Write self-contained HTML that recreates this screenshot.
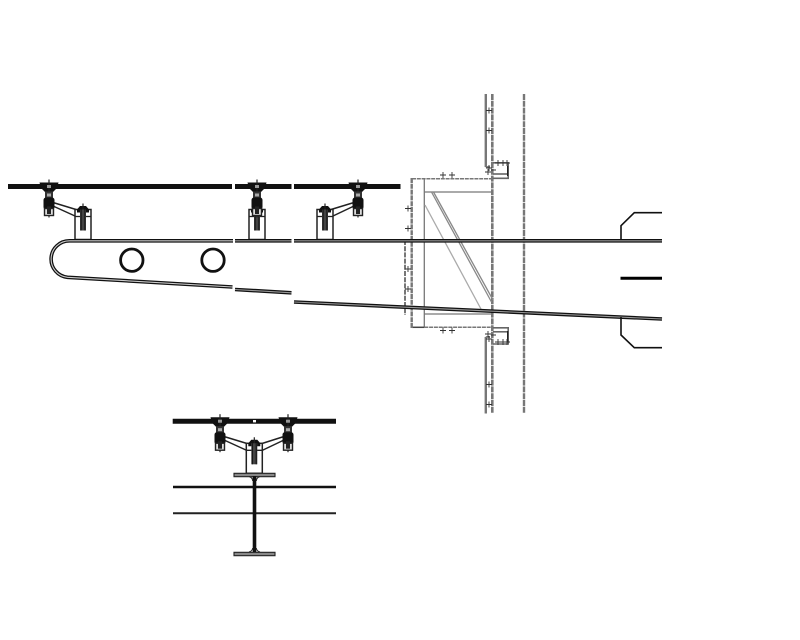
<!DOCTYPE html>
<html><head><meta charset="utf-8"><style>html,body{margin:0;padding:0;background:#fff}svg{display:block}</style></head>
<body>
<svg width="800" height="640" viewBox="0 0 800 640" xmlns="http://www.w3.org/2000/svg" fill="none">
<defs>
<g id="clamp">
  <path d="M-9.5,-4 H9.5 L8,1.5 L3.5,6 H-3.5 L-8,1.5 Z" fill="#111"/>
  <path d="M0,-7 V31" stroke="#222" stroke-width="1.2"/>
  <rect x="-2" y="-1.5" width="4" height="3" fill="#999"/>
  <rect x="-4" y="5" width="8" height="8" fill="#333"/>
  <rect x="-2" y="7" width="4" height="3" fill="#aaa"/>
  <rect x="-5.5" y="11" width="11" height="12" rx="2.5" fill="#111"/>
  <rect x="-4.5" y="22" width="9" height="7" fill="#ddd" stroke="#222" stroke-width="1.4"/>
  <rect x="-2" y="20" width="4" height="7.5" fill="#222"/>
</g>
<g id="post">
  <rect x="-8" y="0" width="16" height="30" fill="#fff" stroke="#222" stroke-width="1.5"/>
  <path d="M-8,7 H8" stroke="#222" stroke-width="1.3"/>
  <path d="M-6,0 L-3,-3.5 H3 L6,0 V3 H-6 Z" fill="#111"/>
  <path d="M0,-6 V3" stroke="#222" stroke-width="1.2"/>
  <rect x="-3" y="0" width="6" height="21" fill="#444"/>
  <rect x="-2.4" y="0" width="1" height="21" fill="#111"/>
  <rect x="1.4" y="0" width="1" height="21" fill="#111"/>
</g>
</defs>

<!-- top rail -->
<g stroke="#111" stroke-width="5">
  <path d="M8,186.5 H232"/><path d="M235,186.5 H291.5"/><path d="M294,186.5 H400.5"/>
</g>

<!-- arms -->
<g stroke="#222" stroke-width="1.5">
  <path d="M53,202.5 L76,209.5"/><path d="M53,206 L75,216"/>
  <path d="M354,202.5 L331,209.5"/><path d="M354,206 L333,216"/>
</g>
<use href="#post" x="83" y="209.5"/>
<use href="#post" x="257" y="209.5"/>
<use href="#post" x="325" y="209.5"/>
<use href="#clamp" x="49" y="186.5"/>
<use href="#clamp" x="257" y="186.5"/>
<use href="#clamp" x="358" y="186.5"/>

<!-- right detail: grey structure -->
<g stroke="#777" stroke-width="1.5">
  <path d="M412,178.7 H492.5" stroke-dasharray="4 0.8"/>
  <path d="M424.3,192 H492.5" stroke-width="1.3"/>
  <path d="M424.3,178.7 V327" stroke-width="1.3"/>
  <path d="M424.3,314 H492.5" stroke-width="1.3"/>
  <path d="M424.3,327.3 H492.5" stroke-dasharray="4 0.8"/>
  <path d="M412,327.3 H424.3" stroke="#444"/>
</g>
<g stroke="#777" stroke-width="2.4">
  <path d="M411.7,178 V328" stroke-dasharray="5 0.8"/>
  <path d="M405,240 V315" stroke-dasharray="5 1.2" stroke-width="2"/>
  <path d="M485.8,94 V167"/><path d="M485.8,337 V413.5"/>
  <path d="M485.8,167 H490" stroke-width="1.8"/>
  <path d="M485.8,337 H490" stroke-width="1.8"/>
  <path d="M492.3,94 V413.5" stroke-dasharray="6 0.8" stroke-width="2.6"/>
  <path d="M524,94 V413.5" stroke-dasharray="6 0.8"/>
</g>
<!-- diagonals -->
<g stroke="#888" stroke-width="1.3">
  <path d="M431.5,192 L491.5,302"/>
  <path d="M433.5,192 L493,300"/>
  <path d="M425,205 L481.5,310" stroke="#aaa"/>
</g>
<!-- small boxes -->
<g stroke="#666" stroke-width="1.6">
  <path d="M493,162.8 H508.2 V178.3 H493"/>
  <path d="M493,174 H507"/>
  <path d="M493,327.8 H508.2 V344 H493"/>
  <path d="M493,331.8 H507"/>
</g>
<path d="M507.6,166 V176" stroke="#222" stroke-width="1.2"/>
<path d="M507.6,331 V342" stroke="#222" stroke-width="1.2"/>
<!-- plus marks -->
<g stroke="#333" stroke-width="0.9">
  <path d="M440,175 h6 M443,172 v6 M449,175 h6 M452,172 v6"/>
  <path d="M440,330.5 h6 M443,327.5 v6 M449,330.5 h6 M452,327.5 v6"/>
  <path d="M486,110.5 h6 M489,107.5 v6 M486,130.5 h6 M489,127.5 v6"/>
  <path d="M486,168 h6 M489,165 v6 M485,172 h6 M488,169 v6 M491,170 h5"/>
  <path d="M498,160 v6 M495,163 h15 M503,160 v6 M507,160 v6"/>
  <path d="M405,208.5 h6 M408,205.5 v6 M405,228.5 h6 M408,225.5 v6"/>
  <path d="M405,269 h6 M408,266 v6 M405,289 h6 M408,286 v6"/>
  <path d="M485,334 h6 M488,331 v6 M491,335 h5"/>
  <path d="M486,339 h6 M489,336 v6"/>
  <path d="M498,339 v6 M495,342 h15 M503,339 v6 M507,339 v6"/>
  <path d="M486,384.5 h6 M489,381.5 v6 M486,404.5 h6 M489,401.5 v6"/>
</g>

<!-- beam -->
<g stroke="#111" stroke-width="3.6">
  <path d="M233,240.8 H69.5 A18.3,18.3 0 0 0 67.5,277.3 L232.5,287"/>
  <path d="M235,240.8 H291.5"/>
  <path d="M294,240.8 H662"/>
  <path d="M235,289.5 L291.5,292.8"/>
  <path d="M294,302 L662,319"/>
</g>
<g stroke="#999" stroke-width="1.1">
  <path d="M233,240.8 H69.5 A18.3,18.3 0 0 0 67.5,277.3 L232.5,287" stroke="#ccc"/>
  <path d="M235,240.8 H291.5"/>
  <path d="M294,240.8 H662"/>
  <path d="M235,289.5 L291.5,292.8"/>
  <path d="M294,302 L662,319"/>
</g>
<circle cx="131.8" cy="260.2" r="11.2" stroke="#111" stroke-width="2.8" fill="#fff"/>
<circle cx="213" cy="260.2" r="11.2" stroke="#111" stroke-width="2.8" fill="#fff"/>

<!-- right end -->
<g stroke="#111" stroke-width="1.6">
  <path d="M621,240 V225.7 L634.3,212.7 H662"/>
  <path d="M621,317 V335 L634.3,347.7 H662"/>
</g>
<path d="M620.5,278.3 H662" stroke="#000" stroke-width="3"/>

<!-- lower figure -->
<path d="M172.7,421.2 H336" stroke="#111" stroke-width="5"/>
<rect x="253" y="420" width="3" height="2.4" fill="#fff"/>
<g stroke="#222" stroke-width="1.5">
  <path d="M224,436.5 L247,443.5"/><path d="M224,440 L247,450.5"/>
  <path d="M284,436.5 L262,443.5"/><path d="M284,440 L262,450.5"/>
</g>
<use href="#post" x="254.3" y="443.3"/>
<use href="#clamp" x="220" y="421.2"/>
<use href="#clamp" x="288" y="421.2"/>
<rect x="234" y="473.3" width="41" height="3.4" fill="#888" stroke="#222" stroke-width="1.1"/>
<rect x="234" y="552.3" width="41" height="3.4" fill="#888" stroke="#222" stroke-width="1.1"/>
<path d="M173,487 H336" stroke="#111" stroke-width="2.4"/>
<path d="M173,513.3 H336" stroke="#222" stroke-width="2"/>
<path d="M254.5,476 V552" stroke="#111" stroke-width="3.6"/>
<path d="M249,476.5 Q252.5,477.5 252.7,481 M260,476.5 Q256.5,477.5 256.3,481" stroke="#222" stroke-width="1"/>
<path d="M249,552 Q252.5,551 252.7,548 M260,552 Q256.5,551 256.3,548" stroke="#222" stroke-width="1"/>
</svg>
</body></html>
